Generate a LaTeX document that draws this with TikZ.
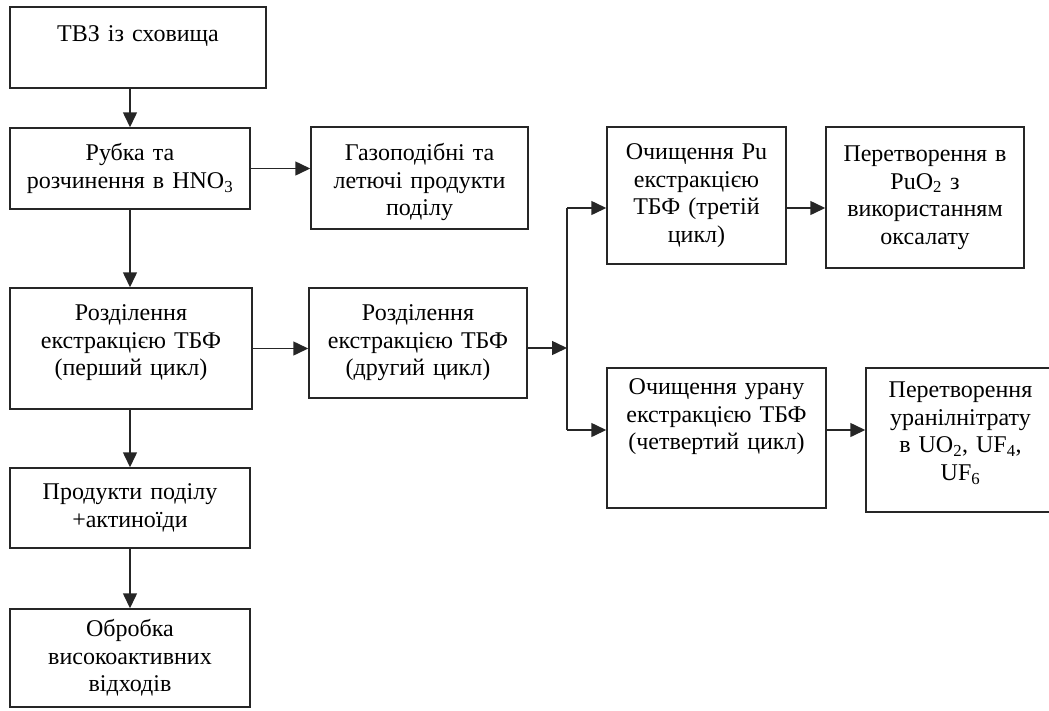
\documentclass[tikz,border=0pt]{standalone}
\usepackage{fontspec}
\setmainfont{Liberation Serif}
\usetikzlibrary{arrows.meta}
\begin{document}
\begin{tikzpicture}[x=1pt,y=-1pt,>={Triangle[length=15pt,width=14pt]}]
        \tikzstyle{stage}=[rectangle,draw=black!85,line width=1.5pt,align=center,inner sep=0pt,font=\fontsize{24}{27.5}\selectfont]
        \tikzstyle{edge}=[line width=1.5pt,draw=black!85,->]
        \useasboundingbox (0,0) rectangle (1049,710);
       \begin{scope}
         \node [stage,minimum width=256pt,minimum height=81pt,text width=246pt,text depth=27pt] (tvz) at (138,47.5) {ТВЗ із сховища};
         \node [stage,minimum width=240pt,minimum height=81pt,text width=232pt] (rubka) at (130,168.5) {Рубка та\\розчинення в HNO\textsubscript{3}};
         \node [stage,minimum width=217pt,minimum height=102pt,text width=210pt,text depth=52pt] (gaz) at (419.5,178) {Газоподібні та\\летючі продукти\\поділу};
         \node [stage,minimum width=242pt,minimum height=121pt,text width=234pt,text depth=71pt] (rozd1) at (131,348.5) {Розділення\\екстракцією ТБФ\\(перший цикл)};
         \node [stage,minimum width=218pt,minimum height=110pt,text width=212pt] (rozd2) at (418,343) {Розділення\\екстракцією ТБФ\\(другий цикл)};
         \node [stage,minimum width=240pt,minimum height=80pt,text width=232pt] (prod) at (130,508) {Продукти поділу\\+актиноїди};
         \node [stage,minimum width=240pt,minimum height=98pt,text width=232pt] (obrob) at (130,658) {Обробка\\високоактивних\\відходів};
         \node [stage,minimum width=179pt,minimum height=137pt,text width=172pt] (pu) at (696.5,195.5) {Очищення Pu\\екстракцією\\ТБФ (третій\\цикл)};
         \node [stage,minimum width=198pt,minimum height=141pt,text width=190pt] (puo) at (925,197.5) {Перетворення в\\PuO\textsubscript{2} з\\використанням\\оксалату};
         \node [stage,minimum width=219pt,minimum height=140pt,text width=212pt,text depth=102pt] (uran) at (716.5,438) {Очищення урану\\екстракцією ТБФ\\(четвертий цикл)};
         \node [stage,minimum width=189pt,minimum height=144pt,text width=180pt,text depth=100pt] (uf) at (960.5,440) {Перетворення\\уранілнітрату\\в UO\textsubscript{2}, UF\textsubscript{4},\\UF\textsubscript{6}};
         \coordinate (fork) at (567,348);
         \coordinate (forkpu) at (567,208);
         \coordinate (forkur) at (567,430);
         \draw[edge] (tvz.south -| rubka.north) -- (rubka.north);
         \draw[edge] (rubka.east) -- (rubka.east -| gaz.west);
         \draw[edge] (rubka.south) -- (rubka.south |- rozd1.north);
         \draw[edge] (rozd1.east) -- (rozd1.east -| rozd2.west);
         \draw[edge] (fork -| rozd2.east) -- (fork);
         \draw[line width=1.5pt,draw=black!85] (forkpu) -- (forkur);
         \draw[edge] (forkpu) -- (forkpu -| pu.west);
         \draw[edge] (forkpu -| pu.east) -- (forkpu -| puo.west);
         \draw[edge] (forkur) -- (forkur -| uran.west);
         \draw[edge] (forkur -| uran.east) -- (forkur -| uf.west);
         \draw[edge] (rozd1.south -| prod.north) -- (prod.north);
         \draw[edge] (prod.south) -- (obrob.north);
        \end{scope}
      \end{tikzpicture}
\end{document}
